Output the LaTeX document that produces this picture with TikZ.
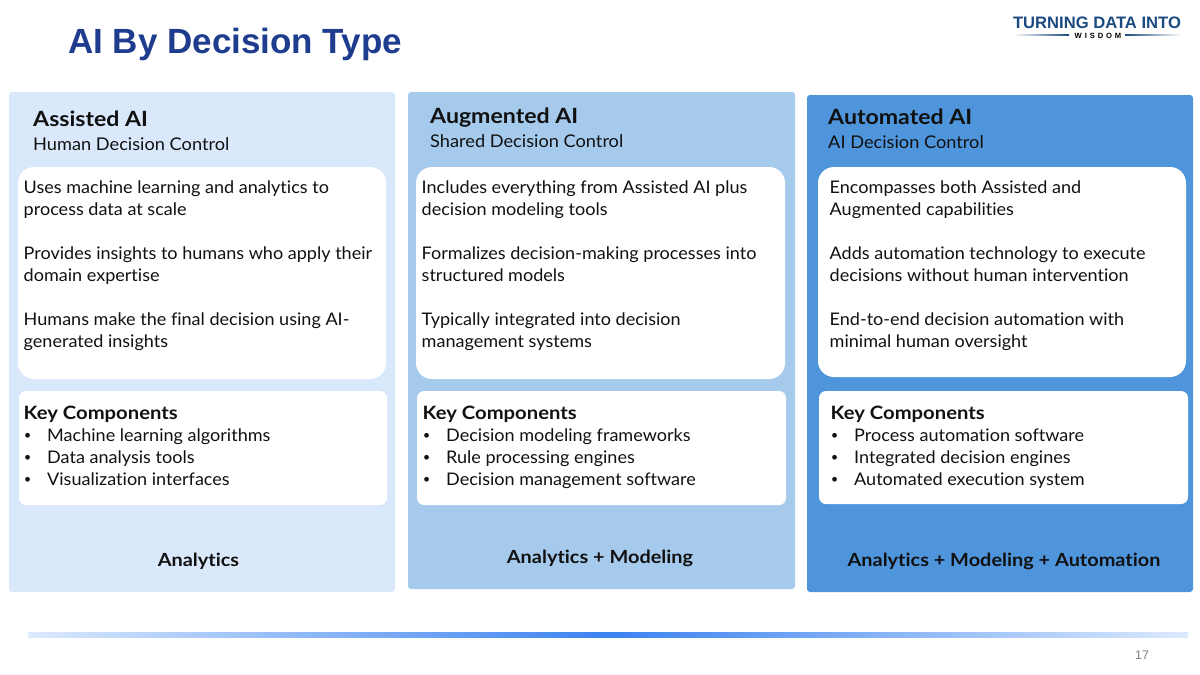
\documentclass[tikz,border=0pt]{standalone}
\usepackage{fontspec}
\setmainfont{Lato}[FakeStretch=1.04,Ligatures=NoCommon,BoldFeatures={FakeStretch=1.1}]
\newfontfamily\titlefont{Liberation Sans}
\newfontfamily\wisdomfont[LetterSpace=38]{Liberation Sans}
\definecolor{panelA}{HTML}{DAE8FC}
\definecolor{panelB}{HTML}{A6CAEC}
\definecolor{panelC}{HTML}{4F95DC}
\definecolor{titleblue}{HTML}{1F3D8F}
\definecolor{logoblue}{HTML}{1B4A80}
\definecolor{ink}{HTML}{111111}
\definecolor{ruleedge}{HTML}{DCEAFD}
\definecolor{rulemid}{HTML}{3B82F0}
\tikzset{
  x=1pt,y=-1pt,
  panel/.style={fill=#1,draw=none,rounded corners=3pt},
  card/.style={fill=white,draw=none,rounded corners=#1},
  body/.style={anchor=north west,inner sep=0pt,align=left,text=ink,font=\fontsize{17.35}{22}\selectfont},
  head/.style={anchor=base west,inner sep=0pt,text=ink,font=\fontsize{21}{24}\selectfont\bfseries},
  sub/.style={anchor=base west,inner sep=0pt,text=ink,font=\fontsize{17.5}{20}\selectfont},
  foot/.style={anchor=base,inner sep=0pt,text=ink,font=\fontsize{18.1}{20}\selectfont\bfseries},
}
\newcommand{\keybox}[3]{{\fontsize{18.4}{22}\selectfont\bfseries Key Components}\\[0pt]
\makebox[23.5pt][l]{\titlefont\hspace{1pt}•}#1\\
\makebox[23.5pt][l]{\titlefont\hspace{1pt}•}#2\\
\makebox[23.5pt][l]{\titlefont\hspace{1pt}•}#3}
\begin{document}
\begin{tikzpicture}
\useasboundingbox (0,0) rectangle (1200,675);
\fill[white] (0,0) rectangle (1200,675);
\node[anchor=base west,inner sep=0pt,text=titleblue,font=\titlefont\fontsize{35}{40}\selectfont\bfseries] (title) at (68,53) {AI By Decision Type};
% logo
\node[anchor=base,inner sep=0pt,text=logoblue,font=\titlefont\fontsize{16.6}{20}\selectfont\bfseries] (logoa) at (1097,28.5) {TURNING DATA INTO};
\node[anchor=base,inner sep=0pt,text=black,font=\wisdomfont\fontsize{7.6}{8}\selectfont\bfseries] (logob) at (1098,38.2) {WISDOM};
\shade[left color=white,right color=logoblue] (1013,34.6) rectangle (1069,35.6);
\shade[left color=logoblue,right color=white] (1125,34.6) rectangle (1181,35.6);
% panels
\fill[panel=panelA] (9,92) rectangle (395,592);
\fill[panel=panelB] (408,92) rectangle (795,589);
\fill[panel=panelC] (807,95) rectangle (1193,592);
% cards
\fill[card=16pt] (18,167) rectangle (386,379);
\fill[card=16pt] (416,167) rectangle (785,379);
\fill[card=16pt] (818,167) rectangle (1186,377);
\fill[card=7pt] (19,391) rectangle (387,505);
\fill[card=7pt] (417,391) rectangle (786,505);
\fill[card=7pt] (819,391) rectangle (1188,504);
% headers
\node[head] (ha) at (33,126) {Assisted AI};
\node[sub] (sa) at (33,150.3) {Human Decision Control};
\node[head] (hb) at (430,123) {Augmented AI};
\node[sub] (sb) at (430,147.3) {Shared Decision Control};
\node[head] (hc) at (828,124) {Automated AI};
\node[sub] (sc) at (828,148.3) {AI Decision Control};
% bodies
\node[body] (ba) at (23.5,181) {Uses machine learning and analytics to\\process data at scale\\[22pt]Provides insights to humans who apply their\\domain expertise\\[22pt]Humans make the final decision using AI-\\generated insights};
\node[body] (bb) at (421.5,181) {Includes everything from Assisted AI plus\\decision modeling tools\\[22pt]Formalizes decision-making processes into\\structured models\\[22pt]Typically integrated into decision\\management systems};
\node[body] (bc) at (829.5,181) {Encompasses both Assisted and\\Augmented capabilities\\[22pt]Adds automation technology to execute\\decisions without human intervention\\[22pt]End-to-end decision automation with\\minimal human oversight};
% key components
\node[body] (ka) at (23.5,406) {\keybox{Machine learning algorithms}{Data analysis tools}{Visualization interfaces}};
\node[body] (kb) at (422.5,406) {\keybox{Decision modeling frameworks}{Rule processing engines}{Decision management software}};
\node[body] (kc) at (830.5,406) {\keybox{Process automation software}{Integrated decision engines}{Automated execution system}};
% footers
\node[foot] (fa) at (198.5,566) {Analytics};
\node[foot] (fb) at (600,563.5) {Analytics + Modeling};
\node[foot] (fc) at (1004,566) {Analytics + Modeling + Automation};
% rule
\shade[left color=ruleedge,right color=rulemid] (28,632) rectangle (608,637);
\shade[left color=rulemid,right color=ruleedge] (608,632) rectangle (1188,637);
\node[anchor=base,inner sep=0pt,text=gray,font=\titlefont\fontsize{12.5}{14}\selectfont] (page) at (1142,659) {17};
\end{tikzpicture}
\end{document}
